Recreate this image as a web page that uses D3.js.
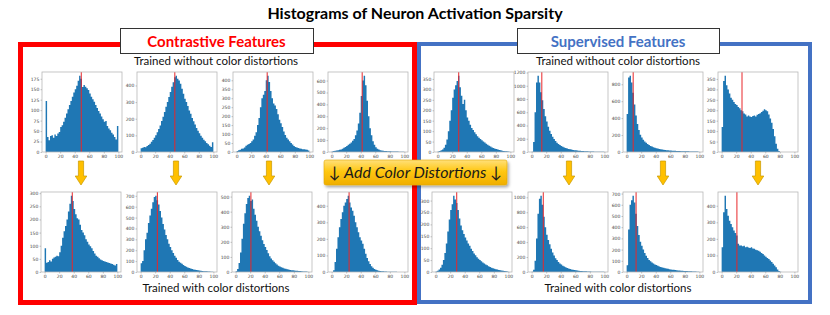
<!DOCTYPE html>
<html>
<head>
<meta charset="utf-8">
<script src="https://cdn.jsdelivr.net/npm/d3@7"></script>
<style>
  body { margin: 0; background: #fff; }
  svg { display: block; font-family: Lato, "Open Sans", sans-serif; }
</style>
</head>
<body>
<div id="chart"></div>
<script>
// Bin starts (bin width 2) and tick labels shared by all histograms
const binStart = [0,2,4,6,8,10,12,14,16,18,20,22,24,26,28,30,32,34,36,38,40,42,44,46,48,
  50,52,54,56,58,60,62,64,66,68,70,72,74,76,78,80,82,84,86,88,90,92,94,96,98];
const binWidth = 2;
const xTicks = [0, 20, 40, 60, 80, 100];

// Contrastive features, trained without color distortions
const conNoDist1 = [122,36,28,38,40,34,42,38,44,48, 60,64,72,82,92,102,112,122,132,142,
  150,158,170,182,175,155,160,156,152,148, 140,132,126,120,112,105,98,92,85,78,
  72,74,62,56,52,46,42,36,30,62];
const conNoDist2 = [22,26,30,28,36,42,50,62,72,86, 100,118,138,160,186,212,240,272,300,330,
  360,392,420,450,458,440,430,410,380,350, 320,300,276,250,230,205,185,165,145,128,
  112,98,86,74,64,54,46,38,30,58];
const conNoDist3 = [5,10,12,18,20,25,35,40,45,50, 60,70,90,110,150,190,250,300,320,340,
  400,425,390,340,300,270,260,240,210,180, 160,140,115,95,80,70,60,50,42,34,
  28,25,22,20,18,16,15,14,12,8];
const conNoDist4 = [5,8,10,12,15,18,22,28,35,42, 50,60,70,80,95,110,140,180,240,330,
  470,600,640,560,430,300,200,140,90,60, 40,28,20,15,12,10,9,8,7,6,
  6,5,5,4,4,4,3,3,3,2];

// Contrastive features, trained with color distortions
const conDist1 = [90,35,38,45,40,50,55,58,62,60, 75,100,130,155,175,200,230,260,290,270,
  240,220,205,200,180,160,150,140,125,115, 105,98,90,80,70,62,58,52,48,45,
  42,40,38,36,34,32,30,28,25,30];
const conDist2 = [80,100,200,300,360,450,520,580,640,690, 700,660,620,560,500,440,390,340,300,260,
  230,200,175,150,130,110,95,85,75,65, 55,48,42,36,32,28,24,20,18,15,
  13,11,10,8,7,6,5,4,3,2];
const conDist3 = [5,20,60,130,220,320,390,450,490,505, 470,480,420,380,340,300,270,240,210,185,
  165,145,125,105,90,78,68,58,50,42, 36,32,28,24,21,18,16,14,12,11,
  10,9,8,7,6,5,4,4,3,2];
const conDist4 = [0,10,60,140,210,270,320,360,400,420, 440,460,420,390,370,340,300,270,240,210,
  190,170,140,110,85,65,48,35,25,18, 14,10,8,6,5,4,3,3,2,2,
  1,1,1,1,1,0,0,0,0,0];

// Supervised features, trained without color distortions
const supNoDist1 = [2,5,8,12,20,35,60,100,150,200, 260,300,320,340,365,310,270,230,250,200,
  165,150,130,115,105,95,85,75,68,62, 56,50,45,40,35,30,26,22,19,16,
  14,12,10,8,6,5,4,3,2,1];
const supNoDist2 = [5,150,600,1050,1150,1050,900,780,650,540, 460,380,320,270,230,195,165,140,120,105,
  90,78,68,60,52,46,40,36,32,28, 25,22,20,18,16,14,12,11,10,9,
  8,7,6,5,5,4,4,3,3,2];
const supNoDist3 = [450,880,900,820,700,560,430,330,260,205, 170,145,125,108,95,82,72,64,56,50,
  45,40,36,32,29,26,24,22,20,18, 17,16,15,14,13,12,11,10,10,9,
  9,8,8,7,7,6,6,5,5,4];
const supNoDist4 = [120,340,365,320,300,280,260,250,240,230, 225,215,210,200,195,185,180,170,175,170,
  168,172,175,170,178,182,186,192,198,205, 200,195,180,160,140,110,75,40,15,5,
  0,0,0,0,0,0,0,0,0,0];

// Supervised features, trained with color distortions
const supDist1 = [2,5,10,18,30,50,80,120,170,220, 260,285,320,305,290,260,225,195,175,160,
  145,132,120,110,98,88,78,70,62,56, 50,45,40,36,32,28,24,21,18,16,
  14,12,10,8,7,6,5,4,3,2];
const supDist2 = [5,30,150,450,780,980,1020,900,740,600, 500,430,370,310,260,220,185,160,135,115,
  100,85,72,62,54,46,40,35,30,26, 23,20,17,15,13,11,10,9,8,7,
  6,5,5,4,4,3,3,2,2,2];
const supDist3 = [60,380,600,640,680,620,520,410,330,270, 235,200,170,145,125,108,95,85,75,68,
  62,56,50,45,41,37,34,31,28,25, 23,21,19,17,15,14,13,12,11,10,
  9,8,7,6,6,5,5,4,3,3];
const supDist4 = [150,360,460,380,340,310,290,270,250,235, 220,170,160,160,155,158,150,152,148,145,
  150,142,140,135,132,128,122,115,108,100, 92,85,78,70,60,50,40,28,15,6,
  2,0,0,0,0,0,0,0,0,0];

// Mean activation (red line) of each histogram
const conNoDistMean = [49, 47, 42, 42];
const conDistMean = [38, 23, 21, 24];
const supNoDistMean = [29, 14, 9, 28];
const supDistMean = [29, 16, 13, 21];

// y tick labels of each histogram
const conNoDistTicks = [[0,25,50,75,100,125,150,175], [0,100,200,300,400], [0,50,100,150,200,250,300,350,400], [0,100,200,300,400,500,600]];
const conDistTicks = [[0,50,100,150,200,250,300], [0,100,200,300,400,500,600,700], [0,100,200,300,400,500], [0,100,200,300,400]];
const supNoDistTicks = [[0,50,100,150,200,250,300,350], [0,200,400,600,800,1000,1200], [0,200,400,600,800], [0,50,100,150,200,250,300,350]];
const supDistTicks = [[0,50,100,150,200,250,300], [0,200,400,600,800,1000], [0,100,200,300,400,500,600,700], [0,100,200,300,400]];

const width = 830, height = 315;
const pw = 80, ph = 80;

const svg = d3.select("#chart")
  .append("svg")
  .attr("width", width)
  .attr("height", height);

const defs = svg.append("defs");
const grad = defs.append("linearGradient").attr("id", "gold").attr("x1", 0).attr("y1", 0).attr("x2", 0).attr("y2", 1);
grad.append("stop").attr("offset", "0%").attr("stop-color", "#ffe07a");
grad.append("stop").attr("offset", "45%").attr("stop-color", "#ffc712");
grad.append("stop").attr("offset", "100%").attr("stop-color", "#f0ae00");
const shadow = defs.append("filter").attr("id", "shadow").attr("x", "-10%").attr("y", "-30%").attr("width", "130%").attr("height", "180%");
shadow.append("feDropShadow").attr("dx", 1.5).attr("dy", 2).attr("stdDeviation", 1.5).attr("flood-color", "#000").attr("flood-opacity", 0.35);

// Title
svg.append("text")
  .attr("x", 415).attr("y", 19)
  .attr("text-anchor", "middle")
  .style("font-size", "16px").style("font-weight", "bold")
  .text("Histograms of Neuron Activation Sparsity");

// Group frames
svg.append("rect")
  .attr("x", 419).attr("y", 44).attr("width", 391).attr("height", 258)
  .attr("fill", "none").attr("stroke", "#4472c4").attr("stroke-width", 4);
svg.append("rect")
  .attr("x", 20.5).attr("y", 44.5).attr("width", 394).attr("height", 258)
  .attr("fill", "none").attr("stroke", "#ff0000").attr("stroke-width", 5);

// Header boxes
const headers = [
  { x: 120, w: 193, label: "Contrastive Features", color: "#ff0000" },
  { x: 517, w: 202, label: "Supervised Features", color: "#4472c4" }
];
headers.forEach(h => {
  svg.append("rect")
    .attr("x", h.x + 0.5).attr("y", 28.5).attr("width", h.w).attr("height", 25)
    .attr("fill", "#fff").attr("stroke", "#333").attr("stroke-width", 1);
  svg.append("text")
    .attr("x", h.x + h.w / 2).attr("y", 47)
    .attr("text-anchor", "middle")
    .style("font-size", "15px").style("font-weight", "bold")
    .attr("fill", h.color)
    .text(h.label);
});

// Row captions
[216, 618].forEach(cx => {
  svg.append("text").attr("x", cx).attr("y", 65).attr("text-anchor", "middle")
    .style("font-size", "11.5px").attr("fill", "#111").text("Trained without color distortions");
  svg.append("text").attr("x", cx).attr("y", 292).attr("text-anchor", "middle")
    .style("font-size", "11.5px").attr("fill", "#111").text("Trained with color distortions");
});

// One histogram panel; the bars are drawn as one stepped area so no seams show
function drawHist(x0, y0, counts, mean, yTicks) {
  const x = d3.scaleLinear().domain([-5, 105]).range([x0, x0 + pw]);
  const y = d3.scaleLinear().domain([0, d3.max(counts) * 1.05]).range([y0 + ph, y0]);
  const g = svg.append("g");

  g.append("rect")
    .attr("x", x0).attr("y", y0).attr("width", pw).attr("height", ph)
    .attr("fill", "#fff");

  const pts = counts.map((d, i) => ({ x: binStart[i], v: d }));
  pts.push({ x: binStart[binStart.length - 1] + binWidth, v: counts[counts.length - 1] });
  const area = d3.area()
    .curve(d3.curveStepAfter)
    .x(d => x(d.x))
    .y0(y(0))
    .y1(d => y(d.v));
  g.append("path")
    .datum(pts)
    .attr("d", area)
    .attr("fill", "#1f77b4");

  g.append("line")
    .attr("x1", x(mean)).attr("x2", x(mean))
    .attr("y1", y0).attr("y2", y0 + ph)
    .attr("stroke", "#e8272a").attr("stroke-width", 1);

  g.append("rect")
    .attr("x", x0).attr("y", y0).attr("width", pw).attr("height", ph)
    .attr("fill", "none").attr("stroke", "#b8b8b8").attr("stroke-width", 0.8);

  const ax = g.append("g")
    .attr("transform", "translate(0," + (y0 + ph) + ")")
    .call(d3.axisBottom(x).tickValues(xTicks).tickSize(1.5).tickPadding(1.2));
  const ay = g.append("g")
    .attr("transform", "translate(" + x0 + ",0)")
    .call(d3.axisLeft(y).tickValues(yTicks).tickFormat(d3.format("d")).tickSize(1.5).tickPadding(1.2));
  [ax, ay].forEach(a => {
    a.select(".domain").remove();
    a.selectAll("line").attr("stroke", "#777").attr("stroke-width", 0.4);
    a.selectAll("text").style("font-size", "4.5px").attr("fill", "#444")
      .style("font-family", "'DejaVu Sans', sans-serif");
  });
}

const topY = 72, botY = 192;
const leftTopX = [42, 137, 233, 328], leftBotX = [41, 137, 232, 328];
const rightTopX = [434, 528, 623, 718], rightBotX = [432, 528, 623, 718];

[conNoDist1, conNoDist2, conNoDist3, conNoDist4].forEach((c, i) => drawHist(leftTopX[i], topY, c, conNoDistMean[i], conNoDistTicks[i]));
[conDist1, conDist2, conDist3, conDist4].forEach((c, i) => drawHist(leftBotX[i], botY, c, conDistMean[i], conDistTicks[i]));
[supNoDist1, supNoDist2, supNoDist3, supNoDist4].forEach((c, i) => drawHist(rightTopX[i], topY, c, supNoDistMean[i], supNoDistTicks[i]));
[supDist1, supDist2, supDist3, supDist4].forEach((c, i) => drawHist(rightBotX[i], botY, c, supDistMean[i], supDistTicks[i]));

// Yellow down arrows between the rows
const arrowX = [81, 176, 269, 569, 663, 758];
arrowX.forEach(cx => {
  const path = d3.path();
  path.moveTo(cx - 2.6, 161);
  path.lineTo(cx + 2.6, 161);
  path.lineTo(cx + 2.6, 176);
  path.lineTo(cx + 5.8, 176);
  path.lineTo(cx, 185);
  path.lineTo(cx - 5.8, 176);
  path.lineTo(cx - 2.6, 176);
  path.closePath();
  svg.append("path").attr("d", path.toString())
    .attr("fill", "#ffc000").attr("stroke", "#c99a00").attr("stroke-width", 0.7);
});

// Central label
svg.append("rect")
  .attr("x", 324).attr("y", 160).attr("width", 183).attr("height", 25).attr("rx", 2)
  .attr("fill", "url(#gold)").attr("stroke", "#e0a800").attr("stroke-width", 0.6)
  .attr("filter", "url(#shadow)");
svg.append("text")
  .attr("x", 415.5).attr("y", 178)
  .attr("text-anchor", "middle")
  .style("font-size", "16px").style("font-style", "italic")
  .attr("fill", "#1a1a1a")
  .text("↓ Add Color Distortions ↓");
</script>
</body>
</html>
